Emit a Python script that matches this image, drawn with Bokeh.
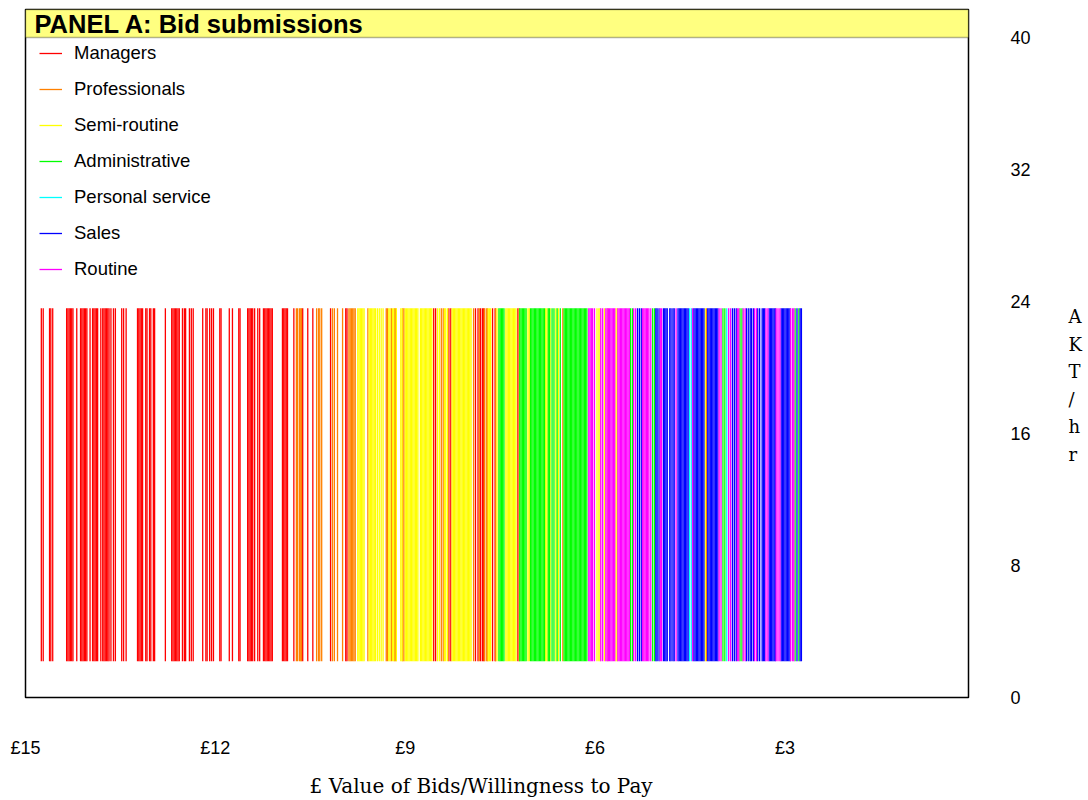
from bokeh.plotting import figure
from bokeh.models import Range1d, FixedTicker, BoxAnnotation, Label, LinearAxis
from bokeh.embed import file_html
from bokeh.resources import INLINE

# ---------------- data ----------------
categories = ["Managers", "Professionals", "Semi-routine", "Administrative",
              "Personal service", "Sales", "Routine"]
colors = ["#ff0000", "#ff8000", "#ffff00", "#00ff00", "#00ffff", "#0000ff", "#ff00ff"]

managers = [14.75, 14.72, 14.62, 14.60, 14.57, 14.35, 14.33, 14.31, 14.29, 14.27, 14.25, 14.19,
            14.13, 14.11, 14.09, 14.07, 14.05, 14.03, 13.98, 13.94, 13.92, 13.90, 13.88, 13.86,
            13.81, 13.78, 13.76, 13.74, 13.72, 13.70, 13.68, 13.65, 13.61, 13.58, 13.48, 13.45,
            13.41, 13.23, 13.21, 13.19, 13.17, 13.15, 13.10, 13.08, 13.04, 13.02, 12.98, 12.96,
            12.79, 12.69, 12.67, 12.65, 12.63, 12.61, 12.59, 12.57, 12.52, 12.49, 12.47, 12.41,
            12.38, 12.35, 12.20, 12.15, 12.13, 12.09, 12.06, 12.03, 11.93, 11.91, 11.78, 11.73,
            11.63, 11.61, 11.49, 11.47, 11.45, 11.43, 11.41, 11.38, 11.33, 11.30, 11.24, 11.22,
            11.20, 11.18, 11.16, 11.14, 11.12, 11.10, 10.94, 10.92, 10.90, 10.88, 10.86, 10.76,
            10.62, 10.54, 10.46, 10.18, 9.94, 9.92, 8.55, 8.52, 8.31, 8.28, 7.89, 7.85, 7.81,
            7.78, 7.76, 7.62, 7.58, 7.22]
professionals = [10.72, 10.70, 10.67, 10.65, 10.64, 10.40, 10.37, 10.35, 10.32, 10.15, 10.12,
                 10.07, 9.99, 9.89, 9.87, 9.85, 9.83, 9.81, 9.79, 9.59, 9.30, 9.28, 9.22, 9.17,
                 9.15, 9.04, 9.02, 8.43, 8.40, 7.92, 7.83, 7.75, 7.72, 7.70, 7.57, 7.20, 6.51,
                 4.24]
semi_routine = [9.75, 9.73, 9.71, 9.69, 9.67, 9.65, 9.57, 9.55, 9.53, 9.51, 9.49, 9.47, 9.44,
                9.41, 9.38, 9.35, 9.26, 9.24, 9.20, 9.18, 9.14, 9.07, 9.05, 9.00, 8.98, 8.96,
                8.94, 8.92, 8.90, 8.88, 8.86, 8.84, 8.82, 8.80, 8.76, 8.74, 8.72, 8.70, 8.68,
                8.66, 8.64, 8.62, 8.60, 8.58, 8.49, 8.46, 8.38, 8.36, 8.33, 8.26, 8.24, 8.22,
                8.20, 8.18, 8.16, 8.14, 8.12, 8.10, 8.08, 8.06, 8.04, 8.02, 8.00, 7.98, 7.96,
                7.69, 7.67, 7.65, 7.55, 7.41, 7.39, 7.37, 7.35, 7.33, 7.31, 7.29, 7.27, 7.25,
                7.06, 7.04, 6.78, 6.76, 6.71, 6.62, 6.58, 5.97, 5.94, 5.92, 5.85, 5.80, 5.67,
                5.65, 4.26]
administrative = [7.52, 7.50, 7.48, 7.46, 7.44, 7.19, 7.17, 7.15, 7.13, 7.11, 7.09, 7.02, 7.00,
                  6.98, 6.96, 6.94, 6.92, 6.90, 6.88, 6.86, 6.84, 6.82, 6.80, 6.74, 6.72, 6.68,
                  6.65, 6.60, 6.55, 6.49, 6.47, 6.45, 6.43, 6.41, 6.39, 6.37, 6.35, 6.33, 6.31,
                  6.29, 6.27, 6.25, 6.23, 6.21, 6.19, 6.17, 6.15, 6.13, 5.44, 5.41, 5.09, 5.06,
                  3.98, 3.95, 3.71, 3.68, 2.84, 2.78]
personal_service = [4.51, 4.48, 3.92]
sales = [5.33, 5.30, 5.27, 5.04, 5.02, 4.99, 4.92, 4.90, 4.88, 4.86, 4.82, 4.80, 4.77, 4.75,
         4.69, 4.67, 4.65, 4.63, 4.61, 4.59, 4.57, 4.55, 4.53, 4.44, 4.42, 4.40, 4.38, 4.36,
         4.34, 4.32, 4.30, 4.28, 4.22, 4.20, 4.18, 4.16, 4.14, 4.12, 4.10, 4.08, 4.06, 3.83,
         3.80, 3.77, 3.61, 3.58, 3.55, 3.53, 3.50, 3.43, 3.40, 3.36, 3.34, 3.32, 3.25, 3.23,
         3.21, 3.19, 3.17, 3.15, 3.06, 3.04, 3.02, 3.00, 2.98, 2.96, 2.94, 2.92, 2.81, 2.76,
         2.74]
routine = [6.10, 6.08, 6.06, 6.04, 6.01, 5.91, 5.88, 5.83, 5.81, 5.79, 5.77, 5.75, 5.73, 5.71,
           5.69, 5.64, 5.62, 5.60, 5.58, 5.56, 5.54, 5.52, 5.50, 5.48, 5.46, 5.39, 5.36, 5.25,
           5.23, 5.21, 5.19, 5.17, 5.15, 5.12, 4.97, 4.95, 4.72, 4.46, 4.04, 4.01, 3.89, 3.86,
           3.75, 3.73, 3.66, 3.63, 3.48, 3.45, 3.30, 3.27, 3.14, 3.11, 3.08, 2.91, 2.88, 2.86]

series = [managers, professionals, semi_routine, administrative, personal_service, sales, routine]

bar_low = 2.2     # AKT/hr extent of each bid line
bar_high = 23.6

x_ticks = [15, 12, 9, 6, 3]
x_tick_labels = ["£15", "£12", "£9", "£6", "£3"]
y_ticks = [0, 8, 16, 24, 32, 40]
y_title_letters = ["A", "K", "T", "/", "h", "r"]

# ---------------- figure ----------------
p = figure(width=1088, height=800, output_backend="svg", toolbar_location=None,
           x_range=Range1d(15, 0.1), y_range=Range1d(0, 41.7),
           y_axis_location="right",
           min_border_left=25, min_border_right=120, min_border_top=9, min_border_bottom=103,
           background_fill_color="white", border_fill_color="white")
p.xgrid.visible = False
p.ygrid.visible = False
p.outline_line_color = "black"
p.outline_line_width = 1.5

# title band
p.add_layout(BoxAnnotation(bottom=40, fill_color="#ffff80", fill_alpha=1.0,
                           line_color="black", line_width=1.5))
p.add_layout(Label(x=15, y=40.85, x_offset=9, text="PANEL A: Bid submissions",
                   text_baseline="middle", text_align="left",
                   text_font="Liberation Sans", text_font_style="bold",
                   text_font_size="25.5px", text_color="black"))

for name, col, vals in zip(categories, colors, series):
    p.segment(x0=vals, y0=[bar_low] * len(vals), x1=vals, y1=[bar_high] * len(vals),
              line_color=col, line_width=1.3, legend_label=name)

# legend
lg = p.legend[0]
lg.location = (14, 417)
lg.border_line_color = None
lg.background_fill_alpha = 0
lg.padding = 0
lg.margin = 0
lg.spacing = 14
lg.label_height = 20
lg.glyph_height = 20
lg.glyph_width = 23
lg.label_standoff = 12
lg.label_text_font = "Liberation Sans"
lg.label_text_font_size = "18.5px"
lg.label_text_color = "black"

# x axis
xa = p.xaxis[0]
xa.ticker = FixedTicker(ticks=x_ticks)
xa.major_label_overrides = {t: s for t, s in zip(x_ticks, x_tick_labels)}
xa.axis_line_color = None
xa.major_tick_line_color = None
xa.minor_tick_line_color = None
xa.major_tick_out = 0
xa.major_label_standoff = 40
xa.major_label_text_font = "Liberation Sans"
xa.major_label_text_font_size = "18px"
xa.major_label_text_color = "black"
xa.axis_label = "£ Value of Bids/Willingness to Pay" + "\u00a0" * 5
xa.axis_label_standoff = 13
xa.axis_label_text_font = "DejaVu Serif"
xa.axis_label_text_font_style = "normal"
xa.axis_label_text_font_size = "20px"
xa.axis_label_text_color = "black"

# right y axis
ya = p.yaxis[0]
ya.ticker = FixedTicker(ticks=y_ticks)
ya.axis_line_color = None
ya.major_tick_line_color = None
ya.minor_tick_line_color = None
ya.major_tick_out = 0
ya.major_label_standoff = 42
ya.major_label_text_font = "Liberation Sans"
ya.major_label_text_font_size = "18px"
ya.major_label_text_color = "black"

# stacked right-axis title, drawn as a label-only axis
p.extra_y_ranges = {"letters": Range1d(13.8, -11.12)}
la = LinearAxis(y_range_name="letters",
                ticker=FixedTicker(ticks=list(range(len(y_title_letters)))),
                major_label_overrides={i: c for i, c in enumerate(y_title_letters)})
la.axis_line_color = None
la.major_tick_line_color = None
la.minor_tick_line_color = None
la.major_tick_out = 0
la.major_label_standoff = 35
la.major_label_text_font = "DejaVu Serif"
la.major_label_text_font_size = "18px"
la.major_label_text_color = "black"
p.add_layout(la, "right")

open("out.html", "w").write(file_html(p, INLINE))
